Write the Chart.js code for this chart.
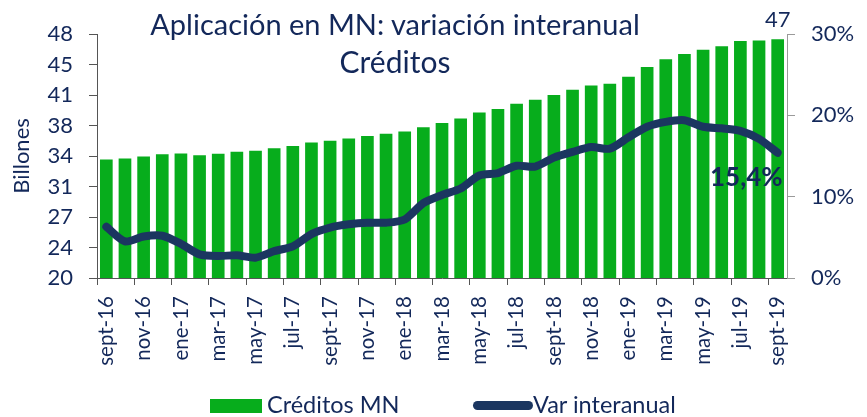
<!DOCTYPE html>
<html>
<head>
<meta charset="utf-8">
<script src="https://cdn.jsdelivr.net/npm/chart.js@4.4.1/dist/chart.umd.min.js"></script>
<style>
  html, body { margin: 0; padding: 0; background: #ffffff; }
  #wrap { position: relative; width: 867px; height: 417px; overflow: hidden; font-family: 'Lato', sans-serif; color: #13285a; }
  #c { position: absolute; left: 0; top: 0; }
  .title { position: absolute; left: 0; width: 790px; text-align: center; font-size: 29px; line-height: 1; white-space: nowrap; color: #13285a; }
  .leg { position: absolute; font-size: 23.5px; line-height: 1; white-space: nowrap; color: #13285a; }
  .legbox { position: absolute; background: #07ad1c; }
  .legline { position: absolute; background: #1b3660; border-radius: 5px; }
</style>
</head>
<body>
<div id="wrap">
  <canvas id="c" width="867" height="417"></canvas>
  <div class="title" style="top:9px;">Aplicación en MN: variación interanual</div>
  <div class="title" style="top:46px; font-size:30px;">Créditos</div>
  <div class="legbox" style="left:210px; top:399px; width:52px; height:14px;"></div>
  <div class="leg" style="left:267px; top:393px;">Créditos MN</div>
  <div class="legline" style="left:473px; top:401px; width:60px; height:9px;"></div>
  <div class="leg" style="left:533px; top:393px;">Var interanual</div>
</div>
<script>
const categories = ['sept-16','oct-16','nov-16','dic-16','ene-17','feb-17','mar-17','abr-17','may-17','jun-17','jul-17','ago-17',
  'sept-17','oct-17','nov-17','dic-17','ene-18','feb-18','mar-18','abr-18','may-18','jun-18','jul-18','ago-18',
  'sept-18','oct-18','nov-18','dic-18','ene-19','feb-19','mar-19','abr-19','may-19','jun-19','jul-19','ago-19','sept-19'];

const creditosMN = [33.6, 33.7, 33.95, 34.2, 34.3, 34.1, 34.25, 34.5, 34.6, 34.9, 35.15, 35.55,
  35.75, 36.0, 36.3, 36.55, 36.8, 37.3, 37.8, 38.3, 39.0, 39.4, 40.0, 40.45,
  41.0, 41.6, 42.1, 42.3, 43.1, 44.2, 45.1, 45.7, 46.2, 46.6, 47.2, 47.25, 47.4];

const varInteranual = [6.3, 4.5, 5.1, 5.2, 4.2, 2.9, 2.7, 2.8, 2.5, 3.3, 3.9, 5.4,
  6.2, 6.6, 6.8, 6.8, 7.2, 9.2, 10.2, 11.0, 12.6, 12.9, 13.8, 13.7,
  14.8, 15.5, 16.1, 15.9, 17.3, 18.6, 19.2, 19.4, 18.6, 18.4, 18.1, 17.1, 15.4];

const leftTicks = { min: 20, max: 48, step: 3.5 };
const rightTicks = { min: 0, max: 30, step: 10 };

const navy = '#13285a';
Chart.defaults.font.family = 'Lato';
Chart.defaults.color = navy;

const labelPlugin = {
  id: 'lastLabels',
  afterDatasetsDraw(chart) {
    const ctx = chart.ctx;
    const barMeta = chart.getDatasetMeta(0);
    const lineMeta = chart.getDatasetMeta(1);
    const nb = barMeta.data.length - 1;
    const b = barMeta.data[nb];
    ctx.save();
    ctx.fillStyle = navy;
    ctx.font = '22px Lato';
    ctx.textAlign = 'center';
    ctx.textBaseline = 'alphabetic';
    ctx.fillText(String(Math.round(creditosMN[nb])), b.x, b.y - 12);
    const nl = lineMeta.data.length - 1;
    const p = lineMeta.data[nl];
    ctx.font = 'bold 26px Lato';
    ctx.textAlign = 'right';
    ctx.fillText(varInteranual[nl].toFixed(1).replace('.', ',') + '%', p.x + 5, p.y + 33);
    ctx.restore();
  }
};

new Chart(document.getElementById('c'), {
  data: {
    labels: categories,
    datasets: [
      {
        type: 'bar',
        label: 'Créditos MN',
        data: creditosMN,
        backgroundColor: '#07ad1c',
        borderWidth: 0,
        categoryPercentage: 0.68,
        barPercentage: 1.0,
        yAxisID: 'y',
        order: 2
      },
      {
        type: 'line',
        label: 'Var interanual',
        data: varInteranual,
        borderColor: '#1b3660',
        backgroundColor: '#1b3660',
        borderWidth: 8,
        pointRadius: 0,
        tension: 0.25,
        borderCapStyle: 'round',
        borderJoinStyle: 'round',
        yAxisID: 'y2',
        order: 1
      }
    ]
  },
  options: {
    responsive: false,
    animation: false,
    layout: { padding: { top: 34, left: 0, right: 0, bottom: 0 } },
    plugins: { legend: { display: false }, tooltip: { enabled: false } },
    scales: {
      x: {
        type: 'category',
        offset: true,
        grid: {
          offset: true,
          drawOnChartArea: false,
          drawTicks: true,
          tickLength: 7,
          color: (c) => (c.index % 2 === 0 ? '#555555' : 'rgba(0,0,0,0)'),
          lineWidth: 1
        },
        border: { color: '#555555', width: 1 },
        ticks: {
          autoSkip: false,
          minRotation: 90,
          maxRotation: 90,
          padding: 11,
          font: { size: 20.5 },
          color: navy,
          callback: function (v, i) { return i % 2 === 0 ? categories[i] : ''; }
        },
        afterFit: (s) => { s.height = 139; }
      },
      y: {
        position: 'left',
        min: leftTicks.min,
        max: leftTicks.max,
        grid: { drawOnChartArea: false, tickLength: 8, color: '#555555' },
        border: { color: '#555555', width: 1 },
        ticks: {
          stepSize: leftTicks.step,
          padding: 16,
          font: { size: 22 },
          color: navy,
          callback: (v) => String(Math.round(v))
        },
        title: { display: true, text: 'Billones', font: { size: 22 }, color: navy, padding: { top: 9, bottom: 0 } },
        afterFit: (s) => { s.width = 97; }
      },
      y2: {
        position: 'right',
        min: rightTicks.min,
        max: rightTicks.max,
        grid: { drawOnChartArea: false, tickLength: 8, color: '#9a9a9a' },
        border: { color: '#9a9a9a', width: 1 },
        ticks: {
          stepSize: rightTicks.step,
          padding: 16,
          font: { size: 22 },
          color: navy,
          callback: (v) => v + '%'
        },
        afterFit: (s) => { s.width = 80; }
      }
    }
  },
  plugins: [labelPlugin]
});
</script>
</body>
</html>
